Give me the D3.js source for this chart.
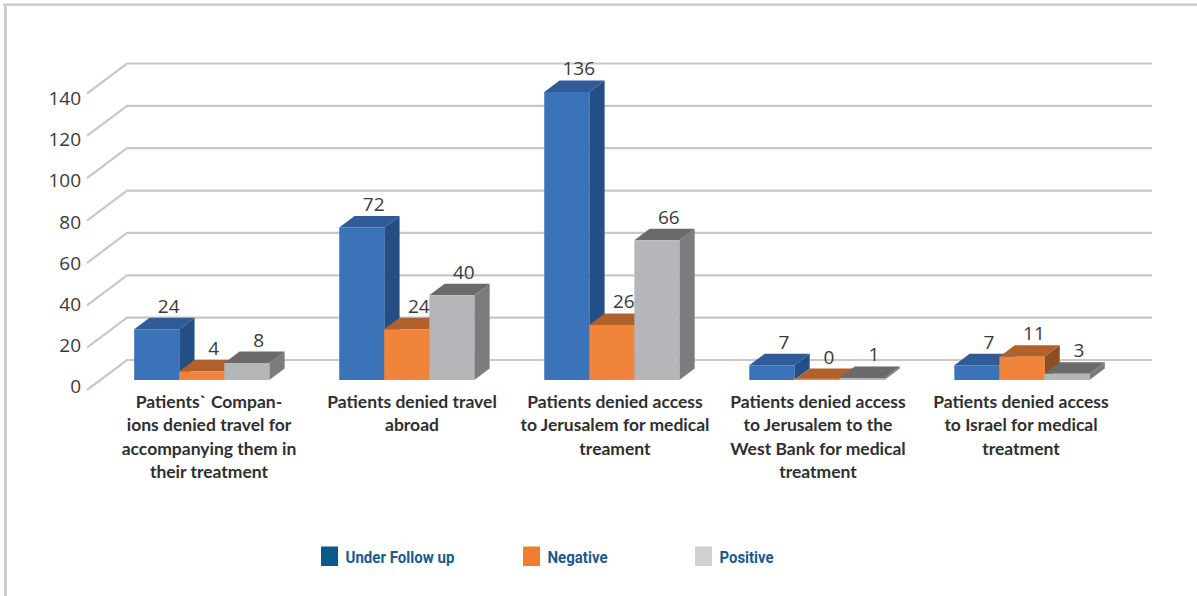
<!DOCTYPE html>
<html>
<head>
<meta charset="utf-8">
<script src="https://cdn.jsdelivr.net/npm/d3@7"></script>
<style>
  html, body { margin: 0; padding: 0; background: #fff; }
  svg { display: block; }
</style>
</head>
<body>
<svg id="chart" width="1197" height="596"></svg>
<script>
// ---------------- DATA ----------------
const categories = [
  "Patients` Companions denied travel for accompanying them in their treatment",
  "Patients denied travel abroad",
  "Patients denied access to Jerusalem for medical treament",
  "Patients denied access to Jerusalem to the West Bank for medical treatment",
  "Patients denied access to Israel for medical treatment"
];
const categoryLines = [
  ["Patients` Compan-", "ions denied travel for", "accompanying them in", "their treatment"],
  ["Patients denied travel", "abroad"],
  ["Patients denied access", "to Jerusalem for medical", "treament"],
  ["Patients denied access", "to Jerusalem to the", "West Bank for medical", "treatment"],
  ["Patients denied access", "to Israel for medical", "treatment"]
];
const seriesNames = ["Under Follow up", "Negative", "Positive"];
const underFollowUp = [24, 72, 136, 7, 7];
const negative = [4, 24, 26, 0, 11];
const positive = [8, 40, 66, 1, 3];
const yTicks = [0, 20, 40, 60, 80, 100, 120, 140];

// ---------------- STYLE ----------------
const faceColors = [
  { front: "#3b73b9", top: "#2f5c98", side: "#234f86", legend: "#0b5a8a" },
  { front: "#f0843a", top: "#b0612c", side: "#8f4e22", legend: "#ee7f31" },
  { front: "#b5b6b9", top: "#6a6a6b", side: "#7b7c80", legend: "#d0d1d3" }
];
const seriesValues = [underFollowUp, negative, positive];

const svg = d3.select("#chart");

// 3D projection parameters
const DX = 40, DY = 30;
const Y0 = 390;
const plotL = 86, plotR = 1111;
const zFront = 0.333, zBack = 0.716;

const y = d3.scaleLinear().domain([0, 140]).range([0, 296.5]);
function P(x, v, z) { return [x + z * DX, Y0 - y(v) - z * DY]; }

const x0 = d3.scaleBand().domain(categories).range([plotL, plotR])
  .paddingInner(0.341).paddingOuter(0.17);
const x1 = d3.scaleBand().domain(seriesNames).range([0, x0.bandwidth()]).padding(0);
const xLabel = d3.scalePoint().domain(categories).range([209, 1021]);

// ---------------- BORDER ----------------
svg.append("rect").attr("x", 3).attr("y", 3.5).attr("width", 1194).attr("height", 2.2).attr("fill", "#c6c6c6");
svg.append("rect").attr("x", 4).attr("y", 4).attr("width", 3).attr("height", 592).attr("fill", "#cfcfcf");

// ---------------- GRIDLINES ----------------
const grid = svg.append("g");
yTicks.forEach(t => {
  const a = P(plotL + 1, t, 0), b = P(plotL + 1, t, 1), c = P(plotR + 1, t, 1);
  grid.append("path")
    .attr("d", `M${a[0]},${a[1]}L${b[0]},${b[1]}L${c[0]},${c[1]}`)
    .attr("fill", "none").attr("stroke", "#c8c8c8").attr("stroke-width", 2.2);
});

// Tick labels via axis
const yLab = d3.scaleLinear().domain([0, 140]).range([386.5, 98.5]);
const axis = svg.append("g").attr("transform", "translate(81,0)")
  .call(d3.axisLeft(yLab).tickValues(yTicks).tickSize(0).tickPadding(0));
axis.select(".domain").remove();
axis.selectAll("text")
  .attr("font-family", "'Open Sans', sans-serif")
  .attr("font-size", 19).attr("fill", "#3a3a3a");

// ---------------- BARS ----------------
const bars = svg.append("g");
const labels = svg.append("g");
categories.forEach((cat, ci) => {
  seriesNames.forEach((s, si) => {
    const v = seriesValues[si][ci];
    const xl = x0(cat) + x1(s), xr = xl + x1.bandwidth();
    const col = faceColors[si];
    const fbl = P(xl, 0, zFront), fbr = P(xr, 0, zFront);
    const ftl = P(xl, v, zFront), ftr = P(xr, v, zFront);
    const btl = P(xl, v, zBack), btr = P(xr, v, zBack), bbr = P(xr, 0, zBack);
    const poly = pts => "M" + pts.map(p => p.join(",")).join("L") + "Z";
    bars.append("path").attr("d", poly([fbr, ftr, btr, bbr])).attr("fill", col.side);
    bars.append("path").attr("d", poly([ftl, ftr, btr, btl])).attr("fill", col.top);
    if (v > 0) bars.append("path").attr("d", poly([fbl, fbr, ftr, ftl])).attr("fill", col.front);
    else bars.append("path").attr("d", poly([fbl, fbr, [fbr[0], fbr[1] - 1.5], [fbl[0], fbl[1] - 1.5]])).attr("fill", col.front);
    labels.append("text")
      .attr("x", (ftl[0] + ftr[0]) / 2 + 12)
      .attr("y", btl[1] - 5)
      .attr("text-anchor", "middle")
      .attr("font-family", "'Open Sans', sans-serif")
      .attr("font-size", 19).attr("fill", "#3a3a3a")
      .text(v);
  });
});

// ---------------- CATEGORY LABELS ----------------
const catG = svg.append("g");
categories.forEach((cat, ci) => {
  const cx = xLabel(cat);
  const t = catG.append("text")
    .attr("text-anchor", "middle")
    .attr("font-family", "Lato, sans-serif")
    .attr("font-weight", 700)
    .attr("font-size", 17.5)
    .attr("fill", "#2f2f2f");
  categoryLines[ci].forEach((ln, li) => {
    t.append("tspan").attr("x", cx).attr("y", 407.5 + li * 23.5).text(ln);
  });
});

// ---------------- LEGEND ----------------
const legendX = [321, 523, 695];
const legendTextW = [109, 60, 54];
const lg = svg.append("g");
seriesNames.forEach((s, si) => {
  lg.append("rect").attr("x", legendX[si]).attr("y", 546.5).attr("width", 17).attr("height", 19.5)
    .attr("fill", faceColors[si].legend);
  lg.append("text").attr("x", legendX[si] + 24.5).attr("y", 563)
    .attr("font-family", "Roboto, sans-serif")
    .attr("font-weight", 700).attr("font-size", 17)
    .attr("textLength", legendTextW[si]).attr("lengthAdjust", "spacingAndGlyphs")
    .attr("fill", "#1b5b8c").text(s);
});
</script>
</body>
</html>
